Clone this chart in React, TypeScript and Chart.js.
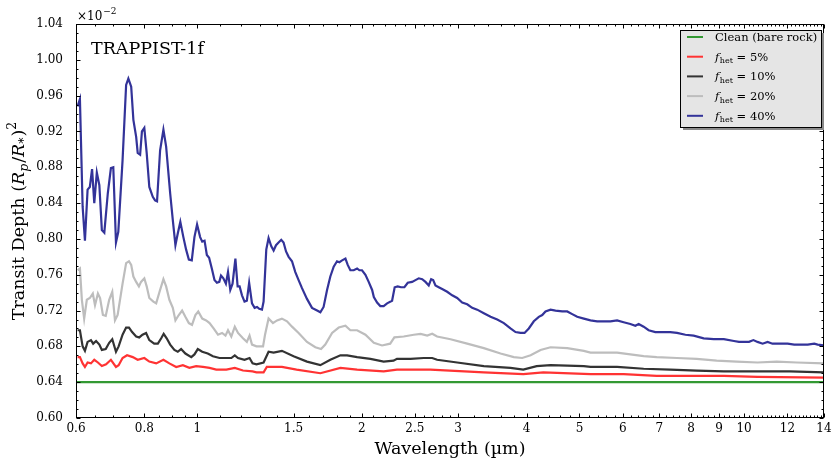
import React, { useEffect, useRef } from "react";
import { Chart, registerables } from "chart.js";

Chart.register(...registerables);

const FONT = '"DejaVu Serif", "Liberation Serif", serif';

// ---- data (wavelength in µm, transit depth in units of 1e-2) ----
const cleanWl = [0.602, 1.0, 2.0, 5.0, 14.0];
const cleanVal = [0.640, 0.640, 0.640, 0.640, 0.640];

const het5Wl = [0.604,0.610,0.617,0.623,0.630,0.639,0.648,0.658,0.669,0.681,0.695,0.710,0.718,0.730,0.744,0.762,0.778,0.800,0.817,0.841,0.867,0.889,0.915,0.941,0.967,0.995,1.024,1.053,1.083,1.130,1.171,1.212,1.262,1.283,1.322,1.340,1.379,1.428,1.519,1.679,1.827,1.960,2.192,2.318,2.668,3.342,3.946,4.294,5.237,6.022,6.921,7.96,9.18,10.58,14.0];
const het5Val = [0.668,0.668,0.661,0.657,0.662,0.661,0.665,0.662,0.658,0.660,0.665,0.657,0.659,0.667,0.670,0.668,0.665,0.667,0.663,0.661,0.665,0.661,0.657,0.659,0.656,0.658,0.657,0.656,0.654,0.654,0.656,0.653,0.652,0.651,0.651,0.657,0.657,0.657,0.654,0.650,0.656,0.654,0.652,0.654,0.654,0.651,0.649,0.651,0.649,0.649,0.647,0.647,0.647,0.646,0.645];

const het10Wl = [0.604,0.610,0.617,0.623,0.630,0.639,0.645,0.653,0.662,0.669,0.680,0.690,0.699,0.710,0.718,0.730,0.741,0.750,0.760,0.773,0.783,0.794,0.806,0.817,0.834,0.847,0.859,0.868,0.879,0.892,0.908,0.921,0.934,0.951,0.975,0.988,1.002,1.021,1.045,1.068,1.098,1.121,1.138,1.154,1.171,1.187,1.220,1.246,1.262,1.283,1.322,1.350,1.379,1.428,1.500,1.587,1.679,1.751,1.827,1.879,1.960,2.073,2.192,2.285,2.318,2.454,2.594,2.689,2.745,2.987,3.342,3.739,3.946,4.175,4.426,5.092,5.237,5.858,6.551,7.328,8.19,9.18,10.58,12.13,14.0];
const het10Val = [0.698,0.698,0.680,0.675,0.685,0.687,0.683,0.686,0.682,0.676,0.677,0.684,0.688,0.674,0.680,0.693,0.701,0.701,0.696,0.691,0.690,0.693,0.695,0.687,0.683,0.683,0.689,0.694,0.689,0.682,0.676,0.674,0.677,0.672,0.668,0.671,0.677,0.674,0.672,0.669,0.667,0.667,0.667,0.667,0.670,0.667,0.665,0.667,0.661,0.660,0.662,0.674,0.673,0.675,0.669,0.663,0.659,0.665,0.670,0.670,0.668,0.666,0.663,0.664,0.666,0.666,0.667,0.667,0.665,0.662,0.658,0.656,0.654,0.658,0.659,0.658,0.657,0.657,0.655,0.654,0.653,0.652,0.652,0.652,0.651];

const het20Wl = [0.604,0.610,0.615,0.621,0.628,0.636,0.644,0.650,0.658,0.664,0.672,0.680,0.690,0.699,0.707,0.715,0.730,0.741,0.750,0.757,0.764,0.773,0.782,0.789,0.800,0.808,0.817,0.831,0.841,0.853,0.867,0.877,0.889,0.902,0.912,0.925,0.938,0.951,0.965,0.978,0.992,1.004,1.021,1.038,1.053,1.071,1.091,1.110,1.126,1.138,1.154,1.171,1.187,1.212,1.232,1.246,1.259,1.283,1.294,1.319,1.330,1.350,1.375,1.399,1.428,1.459,1.490,1.532,1.587,1.644,1.684,1.714,1.764,1.814,1.866,1.905,1.960,2.030,2.103,2.177,2.253,2.293,2.385,2.488,2.561,2.633,2.689,2.745,2.905,3.116,3.342,3.586,3.792,3.928,4.07,4.243,4.426,4.748,5.092,5.237,5.537,5.858,6.194,6.551,6.921,7.538,8.19,8.91,9.69,10.58,11.47,12.48,14.0];
const het20Val = [0.765,0.767,0.732,0.711,0.732,0.734,0.739,0.726,0.739,0.734,0.715,0.714,0.732,0.741,0.709,0.715,0.750,0.773,0.775,0.771,0.758,0.752,0.747,0.752,0.756,0.747,0.734,0.730,0.728,0.741,0.755,0.747,0.732,0.723,0.709,0.715,0.720,0.713,0.706,0.704,0.715,0.719,0.711,0.709,0.706,0.700,0.693,0.695,0.692,0.698,0.691,0.702,0.695,0.689,0.685,0.692,0.682,0.680,0.680,0.680,0.693,0.711,0.706,0.709,0.711,0.708,0.702,0.695,0.685,0.679,0.677,0.682,0.695,0.701,0.703,0.698,0.698,0.693,0.684,0.681,0.683,0.690,0.691,0.693,0.694,0.692,0.694,0.691,0.688,0.683,0.678,0.672,0.668,0.667,0.670,0.676,0.679,0.678,0.675,0.673,0.673,0.673,0.671,0.669,0.668,0.667,0.666,0.664,0.663,0.662,0.663,0.662,0.661];

const het40Wl = [0.604,0.610,0.617,0.623,0.630,0.636,0.642,0.648,0.655,0.662,0.669,0.676,0.686,0.695,0.702,0.710,0.717,0.730,0.741,0.748,0.757,0.764,0.773,0.778,0.786,0.792,0.800,0.808,0.817,0.829,0.837,0.844,0.855,0.867,0.877,0.892,0.902,0.912,0.921,0.931,0.943,0.954,0.965,0.977,0.988,0.999,1.012,1.021,1.031,1.041,1.051,1.063,1.075,1.086,1.097,1.105,1.116,1.128,1.138,1.149,1.160,1.174,1.185,1.195,1.207,1.220,1.232,1.244,1.259,1.273,1.286,1.298,1.313,1.322,1.337,1.350,1.365,1.379,1.393,1.408,1.424,1.438,1.453,1.469,1.490,1.511,1.532,1.554,1.587,1.621,1.656,1.679,1.702,1.727,1.751,1.776,1.801,1.819,1.840,1.866,1.884,1.905,1.932,1.960,1.979,2.001,2.030,2.058,2.088,2.103,2.132,2.161,2.192,2.224,2.271,2.296,2.325,2.359,2.392,2.426,2.471,2.506,2.541,2.578,2.614,2.650,2.677,2.700,2.726,2.764,2.804,2.864,2.925,2.987,3.051,3.116,3.182,3.250,3.342,3.438,3.536,3.636,3.739,3.819,3.900,3.967,4.039,4.125,4.213,4.274,4.333,4.426,4.520,4.649,4.748,4.849,4.952,5.092,5.237,5.386,5.537,5.695,5.858,6.022,6.194,6.326,6.415,6.551,6.690,6.881,7.077,7.328,7.538,7.81,8.086,8.435,8.801,9.182,9.581,9.786,9.995,10.21,10.40,10.58,10.81,11.04,11.27,11.59,12.01,12.35,12.71,13.07,13.44,13.63,14.0];
const het40Val = [0.948,0.956,0.836,0.798,0.855,0.858,0.878,0.840,0.874,0.860,0.810,0.807,0.851,0.879,0.880,0.796,0.808,0.888,0.972,0.979,0.970,0.933,0.914,0.896,0.894,0.920,0.924,0.896,0.858,0.847,0.843,0.842,0.899,0.922,0.903,0.851,0.821,0.793,0.806,0.819,0.802,0.788,0.777,0.776,0.802,0.816,0.802,0.797,0.798,0.782,0.779,0.767,0.754,0.751,0.752,0.759,0.756,0.750,0.763,0.743,0.750,0.778,0.747,0.747,0.737,0.730,0.731,0.751,0.728,0.723,0.724,0.722,0.721,0.730,0.788,0.801,0.792,0.787,0.793,0.796,0.799,0.796,0.786,0.780,0.775,0.763,0.754,0.745,0.733,0.723,0.720,0.718,0.724,0.743,0.758,0.769,0.775,0.774,0.776,0.778,0.771,0.765,0.765,0.767,0.765,0.765,0.760,0.752,0.743,0.735,0.729,0.725,0.725,0.728,0.731,0.746,0.747,0.746,0.746,0.751,0.752,0.754,0.756,0.755,0.752,0.748,0.755,0.754,0.748,0.746,0.744,0.741,0.737,0.734,0.729,0.727,0.723,0.721,0.717,0.713,0.710,0.706,0.700,0.696,0.695,0.695,0.700,0.708,0.713,0.715,0.719,0.721,0.720,0.719,0.719,0.716,0.713,0.711,0.709,0.708,0.708,0.708,0.709,0.707,0.705,0.703,0.705,0.702,0.698,0.696,0.696,0.696,0.695,0.693,0.692,0.689,0.688,0.688,0.686,0.685,0.685,0.685,0.687,0.685,0.683,0.685,0.683,0.683,0.683,0.682,0.682,0.682,0.683,0.682,0.681];

const seriesLabels = ["Clean (bare rock)", "f_het = 5%", "f_het = 10%", "f_het = 20%", "f_het = 40%"];
const seriesColors = ["#339933", "#ff3333", "#333333", "#bdbdbd", "#333399"];

const xTickLabels = [0.6, 0.8, 1, 1.5, 2, 2.5, 3, 4, 5, 6, 7, 8, 9, 10, 12, 14];
const yTickLabels = [0.60, 0.64, 0.68, 0.72, 0.76, 0.80, 0.84, 0.88, 0.92, 0.96, 1.00, 1.04];

function xMinorTicks(): number[] {
  const out: number[] = [];
  for (let i = 12; i <= 20; i++) out.push(i * 0.05);
  for (let i = 10; i <= 30; i++) out.push(i * 0.1);
  for (let i = 15; i <= 70; i++) out.push(i * 0.2);
  return out.filter((v) => !xTickLabels.some((m) => Math.abs(m - v) < 1e-6));
}
function yMinorTicks(): number[] {
  const out: number[] = [];
  for (let i = 60; i <= 104; i++) if (i % 4 !== 0) out.push(i / 100);
  return out;
}

function pts(wl: number[], v: number[]) {
  return wl.map((x, i) => ({ x, y: v[i] }));
}

function drawFhet(ctx: CanvasRenderingContext2D, x: number, y: number, rest: string, size: number) {
  ctx.textBaseline = "alphabetic";
  ctx.textAlign = "left";
  ctx.font = `italic ${size}px ${FONT}`;
  ctx.fillText("f", x, y);
  let cx = x + ctx.measureText("f").width + 0.5;
  const sub = size * 0.7;
  ctx.font = `${sub}px ${FONT}`;
  ctx.fillText("het", cx, y + size * 0.22);
  cx += ctx.measureText("het").width;
  ctx.font = `${size}px ${FONT}`;
  ctx.fillText(rest, cx, y);
}

const decorPlugin = {
  id: "decor",
  afterDraw(chart: any) {
    const { ctx, chartArea: a, scales } = chart;
    const xs = scales.x;
    const ys = scales.y;
    ctx.save();
    ctx.strokeStyle = "#000";
    ctx.fillStyle = "#000";
    ctx.lineWidth = 1;
    const L = Math.round(a.left) + 0.5;
    const R = Math.round(a.right) - 0.5;
    const T = Math.round(a.top) + 0.5;
    const B = Math.round(a.bottom) - 0.5;
    ctx.strokeRect(L, T, R - L, B - T);

    ctx.beginPath();
    const tickX = (v: number, len: number) => {
      const p = Math.round(xs.getPixelForValue(v)) + 0.5;
      ctx.moveTo(p, B); ctx.lineTo(p, B - len);
      ctx.moveTo(p, T); ctx.lineTo(p, T + len);
    };
    const tickY = (v: number, len: number) => {
      const p = Math.round(ys.getPixelForValue(v)) + 0.5;
      ctx.moveTo(L, p); ctx.lineTo(L + len, p);
      ctx.moveTo(R, p); ctx.lineTo(R - len, p);
    };
    xTickLabels.forEach((v) => tickX(v, 4));
    xMinorTicks().forEach((v) => tickX(v, 2));
    yTickLabels.forEach((v) => tickY(v, 4));
    yMinorTicks().forEach((v) => tickY(v, 2));
    ctx.stroke();

    // title inside plot
    ctx.textAlign = "left";
    ctx.textBaseline = "alphabetic";
    ctx.font = `17.5px ${FONT}`;
    ctx.fillText("TRAPPIST-1f", a.left + 15, a.top + 30);

    // offset text  ×10^-2
    ctx.font = `12px ${FONT}`;
    ctx.fillText("\u00d710", a.left + 1, a.top - 4);
    const w10 = ctx.measureText("\u00d710").width;
    ctx.font = `9px ${FONT}`;
    ctx.fillText("\u22122", a.left + 1 + w10 + 1, a.top - 10);

    // x axis label
    ctx.textAlign = "center";
    ctx.font = `17.5px ${FONT}`;
    ctx.fillText("Wavelength (\u00b5m)", (a.left + a.right) / 2, a.bottom + 36);

    // y axis label with math
    ctx.save();
    ctx.translate(24, (a.top + a.bottom) / 2);
    ctx.rotate(-Math.PI / 2);
    const big = 17.5, small = 12.5;
    const parts: [string, string, number, number][] = [
      ["Transit Depth (", "", big, 0],
      ["R", "italic ", big, 0],
      ["p", "italic ", small, 4],
      ["/", "", big, 0],
      ["R", "italic ", big, 0],
      ["*", "", small, 4],
      [")", "", big, 0],
      ["2", "", small, -8],
    ];
    let total = 0;
    parts.forEach(([t, st, sz]) => { ctx.font = `${st}${sz}px ${FONT}`; total += ctx.measureText(t).width + (t === "p" || t === "*" ? 1 : 0); });
    let cx = -total / 2;
    ctx.textAlign = "left";
    parts.forEach(([t, st, sz, dy]) => {
      ctx.font = `${st}${sz}px ${FONT}`;
      ctx.fillText(t, cx, dy);
      cx += ctx.measureText(t).width + (t === "p" || t === "*" ? 1 : 0);
    });
    ctx.restore();

    // legend
    const lw = 141, lh = 97;
    const lx = Math.round(a.right) - 144, ly = Math.round(a.top) + 6;
    ctx.fillStyle = "#8a8a8a";
    ctx.fillRect(lx + 3, ly + 3, lw, lh);
    ctx.fillStyle = "#e5e5e5";
    ctx.fillRect(lx, ly, lw, lh);
    ctx.strokeStyle = "#000";
    ctx.lineWidth = 1;
    ctx.strokeRect(lx + 0.5, ly + 0.5, lw, lh);
    seriesLabels.forEach((lab, i) => {
      const ry = ly + 7 + i * 19.7;
      ctx.strokeStyle = seriesColors[i];
      ctx.lineWidth = 2;
      ctx.beginPath();
      ctx.moveTo(lx + 7, ry);
      ctx.lineTo(lx + 23, ry);
      ctx.stroke();
      ctx.fillStyle = "#000";
      const ty = ry + 4;
      if (lab.startsWith("f_het")) {
        drawFhet(ctx, lx + 35, ty, lab.slice(5), 11.5);
      } else {
        ctx.textAlign = "left";
        ctx.font = `11.5px ${FONT}`;
        ctx.fillText(lab, lx + 35, ty);
      }
    });
    ctx.restore();
  },
};

export default function App() {
  const ref = useRef<HTMLCanvasElement>(null);
  useEffect(() => {
    const series = [
      [cleanWl, cleanVal],
      [het5Wl, het5Val],
      [het10Wl, het10Val],
      [het20Wl, het20Val],
      [het40Wl, het40Val],
    ];
    const chart = new Chart(ref.current as HTMLCanvasElement, {
      type: "line",
      data: {
        datasets: series.map(([wl, v], i) => ({
          label: seriesLabels[i],
          data: pts(wl as number[], v as number[]),
          borderColor: seriesColors[i],
          backgroundColor: seriesColors[i],
          borderWidth: 2.2,
          pointRadius: 0,
          tension: 0,
          fill: false,
          order: 4 - i,
        })),
      },
      options: {
        animation: false,
        responsive: true,
        maintainAspectRatio: false,
        layout: { padding: { left: 0, top: 24, right: 16, bottom: 0 } },
        plugins: { legend: { display: false }, tooltip: { enabled: false } },
        scales: {
          x: {
            type: "logarithmic",
            min: 0.6,
            max: 14,
            grid: { display: false },
            border: { display: false },
            afterBuildTicks: (s: any) => { s.ticks = xTickLabels.map((v) => ({ value: v })); },
            afterFit: (s: any) => { s.height = 49; s.paddingLeft = 0; s.paddingRight = 0; },
            ticks: {
              autoSkip: false, maxRotation: 0, minRotation: 0, padding: -4, color: "#000",
              font: { family: FONT, size: 12 },
              callback: (v: any) => String(v),
            },
          },
          y: {
            type: "linear",
            min: 0.6,
            max: 1.04,
            grid: { display: false },
            border: { display: false },
            afterBuildTicks: (s: any) => { s.ticks = yTickLabels.map((v) => ({ value: v })); },
            afterFit: (s: any) => { s.width = 76; s.paddingTop = 0; s.paddingBottom = 0; },
            ticks: {
              padding: 5, color: "#000",
              font: { family: FONT, size: 12 },
              callback: (v: any) => Number(v).toFixed(2),
            },
          },
        },
      } as any,
      plugins: [decorPlugin],
    });
    return () => chart.destroy();
  }, []);
  return (
    <div style={{ position: "absolute", left: 0, top: 0, width: 840, height: 467 }}>
      <canvas ref={ref} />
    </div>
  );
}
